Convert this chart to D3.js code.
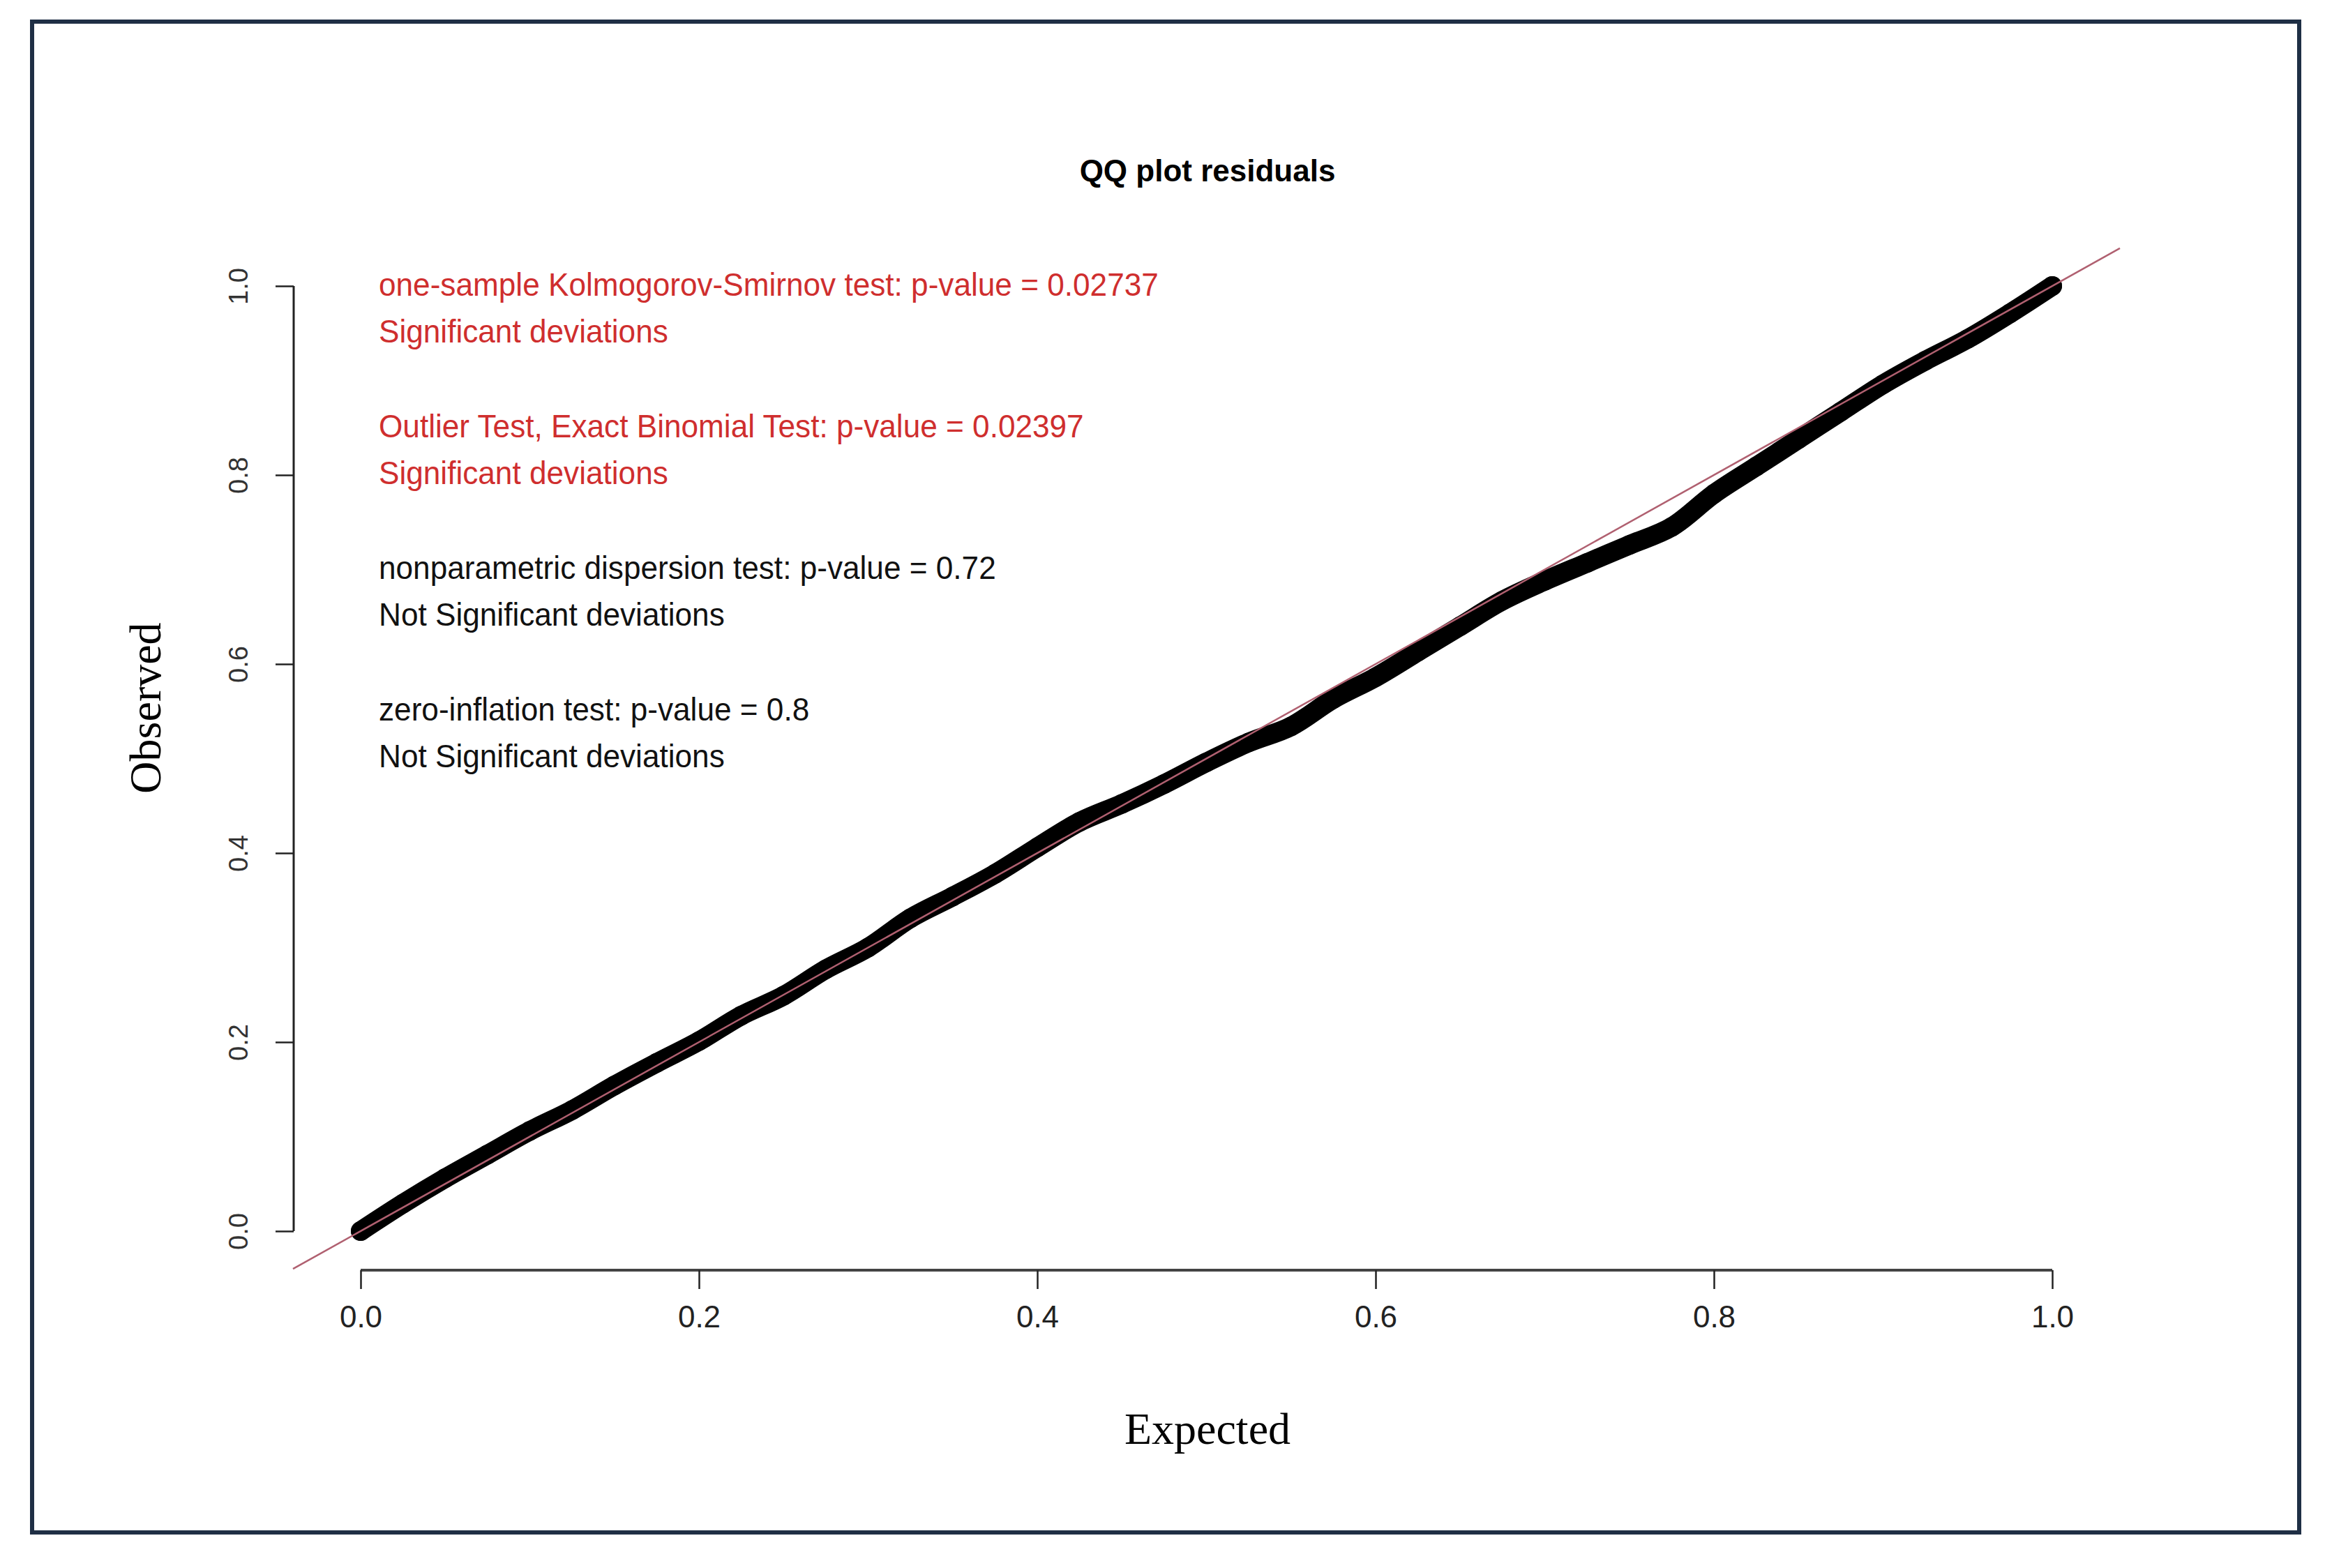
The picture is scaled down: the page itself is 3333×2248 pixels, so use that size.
<!DOCTYPE html>
<html>
<head>
<meta charset="utf-8">
<script src="https://cdn.jsdelivr.net/npm/d3@7"></script>
<style>
  body { margin: 0; background: #fff; }
  .narrow { font-family: "Liberation Sans Narrow", "Liberation Sans", sans-serif; }
</style>
</head>
<body>
<svg id="chart" width="3333" height="2248"></svg>
<script>
// expected uniform quantiles and observed scaled residuals
var expected = [0, 0.025, 0.05, 0.075, 0.1, 0.125, 0.15, 0.175, 0.2, 0.225, 0.25, 0.275, 0.3, 0.325, 0.35, 0.375, 0.4, 0.425, 0.45, 0.475, 0.5,
  0.525, 0.55, 0.575, 0.6, 0.625, 0.65, 0.675, 0.7, 0.725, 0.75, 0.775, 0.8, 0.825, 0.85, 0.875, 0.9, 0.925, 0.95, 0.975, 1.0];
var observed = [0, 0.029, 0.056, 0.081, 0.106, 0.128, 0.154, 0.178, 0.201, 0.228, 0.249, 0.277, 0.300, 0.331, 0.354, 0.378, 0.406, 0.433, 0.452, 0.473, 0.496,
  0.517, 0.534, 0.563, 0.586, 0.613, 0.640, 0.667, 0.688, 0.707, 0.726, 0.745, 0.780, 0.809, 0.838, 0.867, 0.896, 0.921, 0.944, 0.971, 1.0];

var xTicks = [0, 0.2, 0.4, 0.6, 0.8, 1.0];
var yTicks = [0, 0.2, 0.4, 0.6, 0.8, 1.0];

var testLines = [
  { text: "one-sample Kolmogorov-Smirnov test: p-value = 0.02737", sig: true },
  { text: "Significant deviations", sig: true },
  { text: "Outlier Test, Exact Binomial Test: p-value = 0.02397", sig: true },
  { text: "Significant deviations", sig: true },
  { text: "nonparametric dispersion test: p-value = 0.72", sig: false },
  { text: "Not Significant deviations", sig: false },
  { text: "zero-inflation test: p-value = 0.8", sig: false },
  { text: "Not Significant deviations", sig: false }
];

var svg = d3.select("#chart");

// frame around the figure
svg.append("rect")
  .attr("x", 46).attr("y", 31)
  .attr("width", 3250).attr("height", 2166)
  .attr("fill", "none")
  .attr("stroke", "#1f2f45")
  .attr("stroke-width", 6);

var x = d3.scaleLinear().domain([0, 1]).range([517, 2942]);
var y = d3.scaleLinear().domain([0, 1]).range([1765, 410]);

// title
svg.append("text")
  .attr("class", "narrow")
  .attr("x", 1731).attr("y", 260)
  .attr("text-anchor", "middle")
  .attr("font-size", 44)
  .attr("font-weight", "bold")
  .text("QQ plot residuals");

// x axis
var xAxis = svg.append("g")
  .attr("transform", "translate(0,1821)")
  .call(d3.axisBottom(x).tickValues(xTicks).tickSize(27).tickPadding(24).tickFormat(d3.format(".1f")));
xAxis.select(".domain").attr("stroke", "#444").attr("stroke-width", 4).attr("d", "M517,0H2942");
xAxis.selectAll(".tick line").attr("stroke", "#222").attr("stroke-width", 2.5);
xAxis.selectAll(".tick text")
  .attr("class", "narrow")
  .attr("font-size", 44)
  .attr("fill", "#222");

// y axis
var yAxis = svg.append("g")
  .attr("transform", "translate(421,0)")
  .call(d3.axisLeft(y).tickValues(yTicks).tickSize(26).tickPadding(0).tickFormat(d3.format(".1f")));
yAxis.select(".domain").attr("stroke", "#222").attr("stroke-width", 3).attr("d", "M0,1765V410");
yAxis.selectAll(".tick line").attr("stroke", "#222").attr("stroke-width", 2.5);
yAxis.selectAll(".tick text")
  .attr("font-family", "Liberation Sans, Arial, sans-serif")
  .attr("font-size", 38)
  .attr("fill", "#333")
  .attr("text-anchor", "middle")
  .attr("x", 0).attr("dy", 0)
  .attr("transform", "translate(-66,0) rotate(-90)");

// axis titles
svg.append("text")
  .attr("x", 1731).attr("y", 2070)
  .attr("text-anchor", "middle")
  .attr("font-family", "Liberation Serif, serif")
  .attr("font-size", 64)
  .text("Expected");

svg.append("text")
  .attr("transform", "translate(230,1015) rotate(-90)")
  .attr("text-anchor", "middle")
  .attr("font-family", "Liberation Serif, serif")
  .attr("font-size", 64)
  .text("Observed");

// residual band
var band = d3.line()
  .x(function(d, i) { return x(expected[i]); })
  .y(function(d) { return y(d); })
  .curve(d3.curveCatmullRom);

svg.append("path")
  .datum(observed)
  .attr("d", band)
  .attr("fill", "none")
  .attr("stroke", "#000")
  .attr("stroke-width", 28)
  .attr("stroke-linejoin", "round")
  .attr("stroke-linecap", "round");

svg.append("g").selectAll("circle")
  .data(observed)
  .enter()
  .append("circle")
  .attr("cx", function(d, i) { return x(expected[i]); })
  .attr("cy", function(d) { return y(d); })
  .attr("r", 14)
  .attr("fill", "#000");

// 1:1 reference line across the plot region
svg.append("line")
  .attr("x1", x(-0.04)).attr("y1", y(-0.04))
  .attr("x2", x(1.04)).attr("y2", y(1.04))
  .attr("stroke", "#b06070")
  .attr("stroke-width", 2.5);

// test results (narrower face emulated with a horizontal squeeze)
svg.append("g")
  .attr("transform", "translate(543,0) scale(0.96,1)")
  .selectAll("text")
  .data(testLines)
  .enter()
  .append("text")
  .attr("class", "narrow")
  .attr("x", 0)
  .attr("y", function(d, i) { return 424 + Math.floor(i / 2) * 203 + (i % 2) * 67; })
  .attr("font-size", 46)
  .attr("fill", function(d) { return d.sig ? "#cf2e2e" : "#111"; })
  .text(function(d) { return d.text; });
</script>
</body>
</html>
